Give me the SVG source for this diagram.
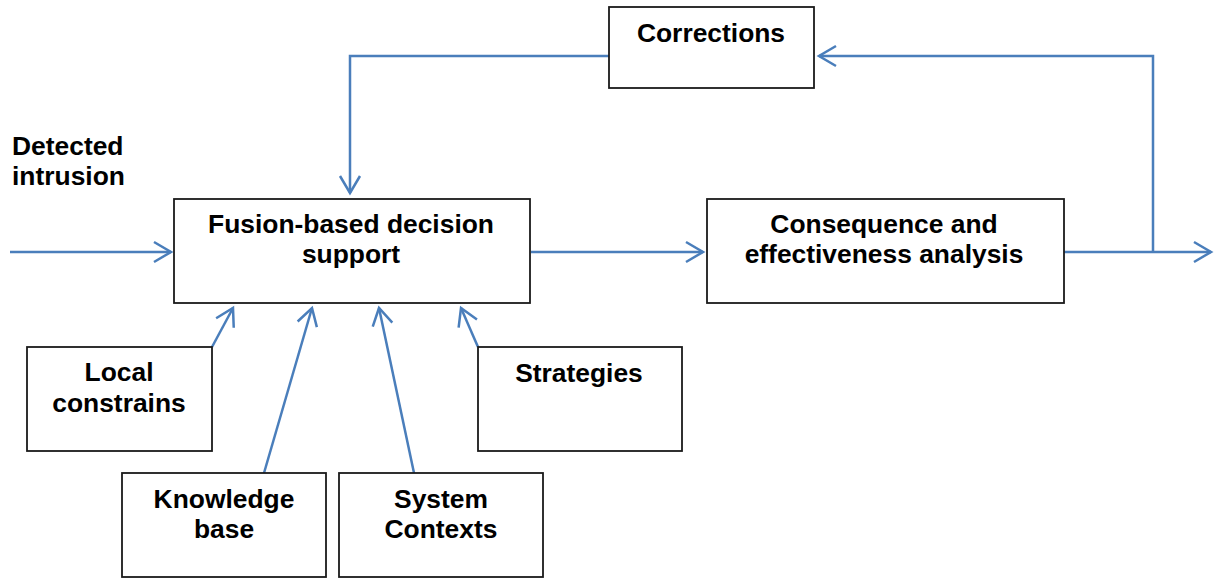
<svg xmlns="http://www.w3.org/2000/svg" width="1216" height="578" viewBox="0 0 1216 578">
  <style>
    .box { fill: #ffffff; stroke: #1a1a1a; stroke-width: 1.8; }
    .lbl { font-family: "Liberation Sans", Arial, sans-serif; font-weight: bold; font-size: 26.4px; fill: #000000; text-anchor: middle; }
    .free { text-anchor: start; }
    .wire { fill: none; stroke: #4a7ebb; stroke-width: 2.5; }
  </style>
  <defs>
    <marker id="open" markerUnits="userSpaceOnUse" markerWidth="24" markerHeight="26" refX="0" refY="0" viewBox="-20 -13 24 26" orient="auto" overflow="visible">
      <path d="M-17,-10 L0,0 L-17,10" fill="none" stroke="#4a7ebb" stroke-width="2.5"/>
    </marker>
  </defs>
  <rect width="1216" height="578" fill="#ffffff"/>

  <!-- free label on the incoming line -->
  <text class="lbl free" x="12" y="155">Detected</text>
  <text class="lbl free" x="12" y="185">intrusion</text>

  <g id="connectors">
    <path class="wire" d="M10,252 H171" marker-end="url(#open)"/>
    <path class="wire" d="M531,252 H703" marker-end="url(#open)"/>
    <path class="wire" d="M1064,252 H1211" marker-end="url(#open)"/>
    <path class="wire" d="M1153,251 V56 H819" marker-end="url(#open)"/>
    <path class="wire" d="M609,56 H350 V193" marker-end="url(#open)"/>
    <path class="wire" d="M212,347 L233,308" marker-end="url(#open)"/>
    <path class="wire" d="M264,473 L312,308" marker-end="url(#open)"/>
    <path class="wire" d="M414,473 L379,308" marker-end="url(#open)"/>
    <path class="wire" d="M478,347 L461,308" marker-end="url(#open)"/>
  </g>

  <g id="corrections">
    <rect class="box" x="609" y="7" width="205" height="81"/>
    <text class="lbl" x="711" y="42">Corrections</text>
  </g>

  <g id="fusion">
    <rect class="box" x="174" y="199" width="356" height="104"/>
    <text class="lbl" x="351" y="233">Fusion-based decision</text>
    <text class="lbl" x="351" y="263">support</text>
  </g>

  <g id="consequence">
    <rect class="box" x="707" y="199" width="357" height="104"/>
    <text class="lbl" x="884" y="233">Consequence and</text>
    <text class="lbl" x="884" y="263">effectiveness analysis</text>
  </g>

  <g id="local-constrains">
    <rect class="box" x="27" y="347" width="185" height="104"/>
    <text class="lbl" x="119" y="381">Local</text>
    <text class="lbl" x="119" y="412">constrains</text>
  </g>

  <g id="strategies">
    <rect class="box" x="478" y="347" width="204" height="104"/>
    <text class="lbl" x="579" y="382">Strategies</text>
  </g>

  <g id="knowledge-base">
    <rect class="box" x="122" y="473" width="204" height="104"/>
    <text class="lbl" x="224" y="508">Knowledge</text>
    <text class="lbl" x="224" y="538">base</text>
  </g>

  <g id="system-contexts">
    <rect class="box" x="339" y="473" width="204" height="104"/>
    <text class="lbl" x="441" y="508">System</text>
    <text class="lbl" x="441" y="538">Contexts</text>
  </g>
</svg>
